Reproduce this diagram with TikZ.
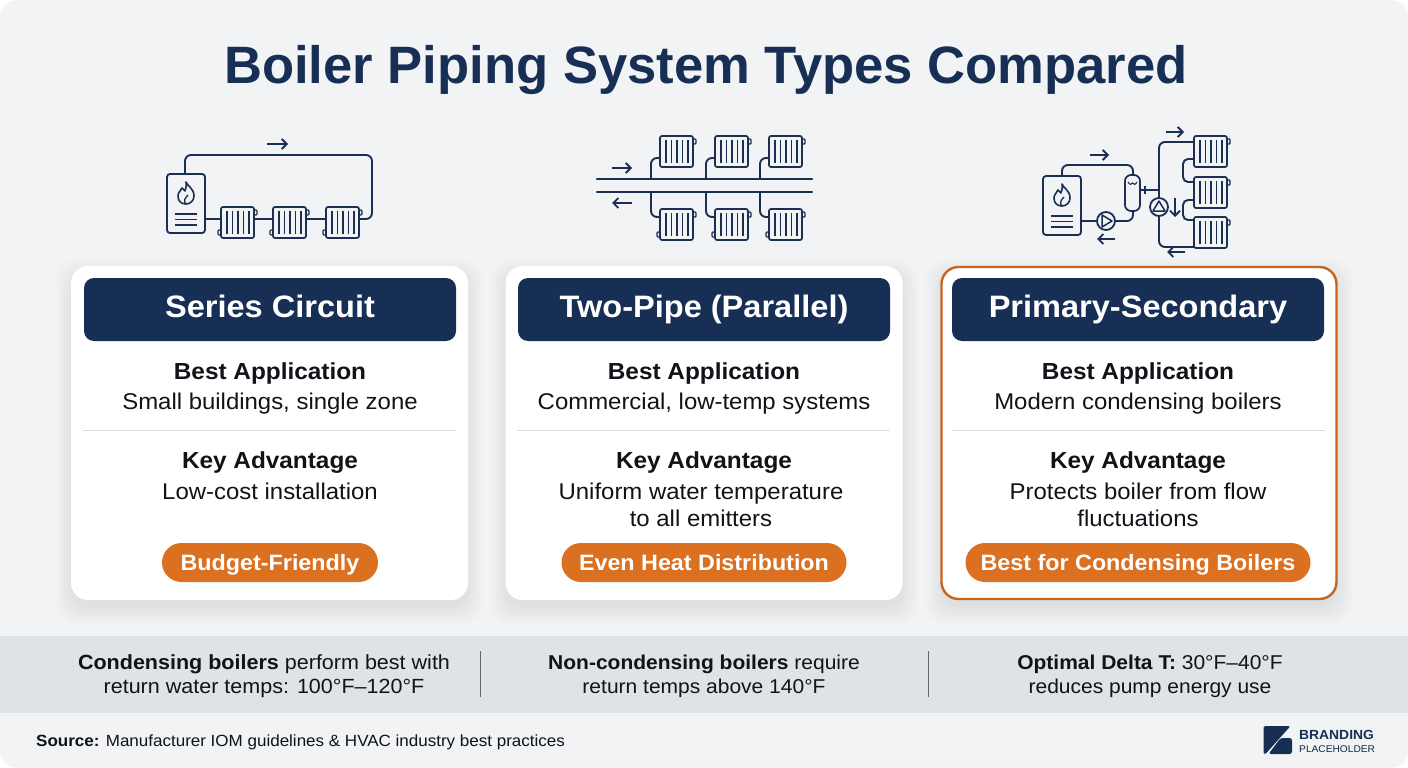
\documentclass[tikz,border=0pt]{standalone}
\usepackage{fontspec}
\setmainfont[FakeStretch=1.05]{Liberation Sans}
\newfontfamily\titlefont{Liberation Sans}
\usetikzlibrary{arrows.meta,calc}
\definecolor{navy}{HTML}{172F55}
\definecolor{iconink}{HTML}{1B2F52}
\definecolor{bodyink}{HTML}{101318}
\definecolor{paper}{HTML}{F1F3F5}
\definecolor{band}{HTML}{DFE2E7}
\definecolor{rule}{HTML}{D9DCE1}
\definecolor{burnt}{HTML}{DC7021}
\tikzset{
	pipe/.style={draw=iconink, line width=1.9pt, rounded corners=6pt, line cap=round},
	flowarrow/.style={draw=iconink, line width=1.8pt, -{Straight Barb[length=5pt,width=10pt]}},
	card/.style={fill=white, rounded corners=17pt, minimum width=397pt, minimum height=334pt, inner sep=0pt},
	cardhot/.style={card, draw=burnt!90!black, line width=2.4pt, minimum width=395pt, minimum height=332pt},
	header/.style={fill=navy, rounded corners=10pt, minimum width=372pt, minimum height=63pt, inner sep=0pt, text=white, text height=21pt, text depth=6pt, font=\bfseries\fontsize{31}{34}\selectfont},
	headline/.style={anchor=base, text=bodyink, font=\bfseries\fontsize{23.2}{26}\selectfont, inner sep=0pt},
	bodyline/.style={anchor=base, text=bodyink, font=\fontsize{22.8}{26}\selectfont, inner sep=0pt},
	pill/.style={fill=burnt, rounded corners=19.5pt, minimum height=39pt, inner sep=0pt, text=white, text height=19pt, text depth=4pt, font=\bfseries\fontsize{22.2}{26}\selectfont},
	footline/.style={anchor=base, text=bodyink, font=\fontsize{20.5}{22}\selectfont, inner sep=0pt},
	footlinesmall/.style={footline, font=\fontsize{20}{22}\selectfont},
	% icon parts
	radiator/.pic={
		\draw[iconink, line width=1.7pt, rounded corners=2pt, fill=paper] (0,0) rectangle (33,31);
		\foreach \bx in {6,11.5,17,22.5,28}
			\draw[iconink, line width=1.5pt] (\bx,4) -- (\bx,27);
		\draw[iconink, line width=1.4pt, rounded corners=1pt] (33,3) -- (36,3) -- (36,8) -- (33,8);
		\coordinate (-w) at (0,12);
		\coordinate (-e) at (33,12);
	},
	radiatorlow/.pic={
		\pic {radiator};
		\draw[iconink, line width=1.4pt, rounded corners=1pt] (0,23) -- (-3,23) -- (-3,28) -- (0,28);
	},
	boilerunit/.pic={
		\draw[iconink, line width=1.8pt, rounded corners=3pt, fill=paper] (0,0) rectangle (38,59);
		\draw[iconink, line width=1.6pt, line join=round]
			(19,8) .. controls (20,12) and (27,14) .. (27,22)
			.. controls (27,27) and (23,30) .. (19,30)
			.. controls (14,30) and (11,27) .. (11,22)
			.. controls (11,18) and (14,17) .. (15,14)
			.. controls (16,16) and (17,16) .. (18,17)
			.. controls (19,14) and (20,11) .. (19,8) -- cycle;
		\draw[iconink, line width=1.3pt] (19,30) .. controls (16,27) and (18,24) .. (21,21);
		\foreach \ly in {40,45.5,51}
			\draw[iconink, line width=1.5pt] (8,\ly) -- (30,\ly);
		\coordinate (-e) at (38,45);
		\coordinate (-n) at (18,0);
	},
}
\begin{document}
\begin{tikzpicture}[x=1pt, y=-1pt]
	\useasboundingbox (0,0) rectangle (1408,768);
	\fill[white] (0,0) rectangle (1408,768);
	\fill[paper, rounded corners=18pt] (0,0) rectangle (1408,768);
%
	% title
	\node[anchor=base, text=navy, font=\titlefont\bfseries\fontsize{52.6}{60}\selectfont, inner sep=0pt] (title) at (706,83) {Boiler Piping System Types Compared};
%
	% series icon
	\pic (boilerA) at (167,174) {boilerunit};
	\pic (radA) at (221,207) {radiatorlow};
	\pic (radB) at (273,207) {radiatorlow};
	\pic (radC) at (326,207) {radiatorlow};
	\coordinate (arrowAs) at (267,144);
	\coordinate (arrowAe) at (288,144);
	\draw[pipe] (boilerA-n) -- (185,155) -- (372,155) -- (372,219) -- (radC-e);
	\draw[pipe] (205,219) -- (radA-w);
	\draw[pipe] (radA-e) -- (radB-w);
	\draw[pipe] (radB-e) -- (radC-w);
	\draw[flowarrow] (arrowAs) -- (arrowAe);
%
	% two-pipe icon
	\draw[pipe, line width=2.3pt] (597,179) -- (812,179);
	\draw[pipe, line width=2.3pt] (597,192) -- (812,192);
	\foreach \rx/\px in {660/651, 715/706, 769/760} {
		\pic at (\rx,136) {radiator};
		\pic at (\rx,209) {radiatorlow};
		\draw[pipe] (\px,179) -- (\px,158) -- (\rx,158);
		\draw[pipe] (\px,192) -- (\px,217) -- (\rx,217);
	}
	\coordinate (arrowBs) at (612,168);
	\coordinate (arrowBe) at (632,168);
	\coordinate (arrowCs) at (632,203);
	\coordinate (arrowCe) at (612,203);
	\draw[flowarrow] (arrowBs) -- (arrowBe);
	\draw[flowarrow] (arrowCs) -- (arrowCe);
%
	% primary-secondary icon
	\pic (boilerC) at (1043,176) {boilerunit};
	\pic (radP) at (1194,136) {radiator};
	\pic (radQ) at (1194,177) {radiator};
	\pic (radR) at (1194,217) {radiator};
	\draw[pipe] (1062,176) -- (1062,165) -- (1133,165) -- (1133,176);
	\draw[pipe] (1082,221) -- (1097,221);
	\draw[pipe] (1115,221) -- (1133,221) -- (1133,211);
	\draw[iconink, line width=1.7pt, fill=paper, rounded corners=6pt] (1125,175) rectangle (1140,211);
	\draw[iconink, line width=1.1pt] (1128,182) .. controls (1130,185) and (1131,185) .. (1132.5,183) .. controls (1134,185) and (1135,185) .. (1137,182);
	\draw[pipe] (1140,190) -- (1159,190);
	\draw[iconink, line width=1.5pt] (1145,186) -- (1145,194);
	\draw[pipe] (1159,198) -- (1159,142) -- (1194,142);
	\draw[pipe] (1159,216) -- (1159,247) -- (1194,247);
	\draw[pipe, rounded corners=5pt] (1194,159) -- (1183,159) -- (1183,182) -- (1194,182);
	\draw[pipe, rounded corners=5pt] (1194,200) -- (1183,200) -- (1183,220) -- (1194,220);
	% pumps
	\node[circle, draw=iconink, line width=1.8pt, fill=paper, minimum size=18pt, inner sep=0pt] (pumpA) at (1106,221) {};
	\node[circle, draw=iconink, line width=1.8pt, fill=paper, minimum size=18pt, inner sep=0pt] (pumpB) at (1159,207) {};
	\draw[iconink, line width=1.5pt, line join=round] (1102,215) -- (1112,221) -- (1102,227) -- cycle;
	\draw[iconink, line width=1.5pt, line join=round] (1153,211) -- (1159,201) -- (1165,211) -- cycle;
	\draw[flowarrow] (1090,155) -- (1109,155);
	\draw[flowarrow] (1115,239) -- (1097,239);
	\draw[flowarrow] (1166,132) -- (1184,132);
	\draw[flowarrow] (1175,198) -- (1175,217);
	\draw[flowarrow] (1185,252) -- (1167,252);
%
	% cards
	\foreach \cx in {269.5, 704, 1139} {
		\foreach \grow in {-2,...,16}
			\fill[black, opacity=0.0035, rounded corners=20pt] (\cx-198.5-\grow,266+9-\grow) rectangle (\cx+198.5+\grow,600+9+\grow);
	}
	\node[card] (cardA) at (269.5,433) {};
	\node[card] (cardB) at (704,433) {};
	\node[cardhot] (cardC) at (1139,433) {};
%
	% headers
	\node[header] (headA) at (270,309.5) {Series Circuit};
	\node[header] (headB) at (704,309.5) {Two-Pipe (Parallel)};
	\node[header] (headC) at (1138,309.5) {Primary-Secondary};
%
	\node[headline] (bestA) at (270,379) {Best Application};
	\node[headline] (bestB) at (704,379) {Best Application};
	\node[headline] (bestC) at (1138,379) {Best Application};
	\node[bodyline] (useA) at (270,409) {Small buildings, single zone};
	\node[bodyline] (useB) at (704,409) {Commercial, low-temp systems};
	\node[bodyline] (useC) at (1138,409) {Modern condensing boilers};
%
	\draw[rule, line width=1pt] (83,430.5) -- (456,430.5);
	\draw[rule, line width=1pt] (517,430.5) -- (890,430.5);
	\draw[rule, line width=1pt] (952,430.5) -- (1325,430.5);
%
	\node[headline] (keyA) at (270,468) {Key Advantage};
	\node[headline] (keyB) at (704,468) {Key Advantage};
	\node[headline] (keyC) at (1138,468) {Key Advantage};
	\node[bodyline] (gainA) at (270,499) {Low-cost installation};
	\node[bodyline] (gainB) at (701,499) {Uniform water temperature};
	\node[bodyline] (gainBb) at (701,526) {to all emitters};
	\node[bodyline] (gainC) at (1138,499) {Protects boiler from flow};
	\node[bodyline] (gainCb) at (1138,526) {fluctuations};
%
	% pills
	\node[pill, minimum width=216pt] (pillA) at (270,562.5) {Budget-Friendly};
	\node[pill, minimum width=285pt] (pillB) at (704,562.5) {Even Heat Distribution};
	\node[pill, minimum width=345pt] (pillC) at (1138,562.5) {Best for Condensing Boilers};
%
	% bottom band
	\fill[band] (0,636) rectangle (1408,713);
	\draw[black!60, line width=0.9pt] (480.5,651) -- (480.5,697);
	\draw[black!60, line width=0.9pt] (928.5,651) -- (928.5,697);
	\node[footline] (noteA) at (264,669) {\textbf{Condensing boilers} perform best with};
	\node[footline] (noteAb) at (264,693) {return water temps: 100°F–120°F};
	\node[footlinesmall] (noteB) at (704,669) {\textbf{Non-condensing boilers} require};
	\node[footlinesmall] (noteBb) at (704,693) {return temps above 140°F};
	\node[footlinesmall] (noteC) at (1150,669) {\textbf{Optimal Delta T:} 30°F–40°F};
	\node[footlinesmall] (noteCb) at (1150,693) {reduces pump energy use};
%
	% source and logo
	\node[anchor=base west, text=bodyink, font=\fontsize{16.2}{18}\selectfont, inner sep=0pt] (source) at (36,746) {\textbf{Source:} Manufacturer IOM guidelines \& HVAC industry best practices};
	\fill[navy, rounded corners=1.5pt] (1263.5,726) -- (1290.5,726) -- (1265.5,754) -- (1263.5,754) -- cycle;
	\fill[navy, rounded corners=2.5pt] (1268.5,754) -- (1280.5,738) -- (1292,738) -- (1292,754) -- cycle;
	\node[anchor=base west, text=navy, font=\bfseries\fontsize{13.2}{15}\selectfont, inner sep=0pt] (brand) at (1299,739) {BRANDING};
	\node[anchor=base west, text=navy!80!black, font=\fontsize{9.7}{12}\selectfont, inner sep=0pt] (brandb) at (1299,752) {PLACEHOLDER};
\end{tikzpicture}
\end{document}
